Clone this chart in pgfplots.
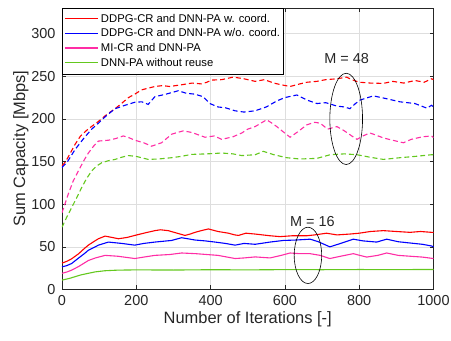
\documentclass[border=0pt]{standalone}
\usepackage{fontspec}
\setmainfont{Liberation Sans}
\usepackage{pgfplots}
\pgfplotsset{compat=1.18}
\definecolor{cred}{rgb}{1,0,0}
\definecolor{cblue}{rgb}{0,0,1}
\definecolor{cpink}{RGB}{255,45,165}
\definecolor{cgreen}{RGB}{100,200,30}
\definecolor{axgray}{rgb}{0.15,0.15,0.15}
\begin{document}
\begin{tikzpicture}
\path[use as bounding box] (-62bp,-51.5bp) rectangle (389bp,289.5bp);
\begin{axis}[
  at={(0,0)}, anchor=south west,
  scale only axis, width=371.5bp, height=281.5bp,
  xmin=0, xmax=1000, ymin=0, ymax=330,
  xtick={0,200,...,1000}, ytick={0,50,...,300},
  grid=major, major grid style={draw=black!13, line width=0.6pt},
  axis line style={draw=axgray, line width=0.6pt},
  tick style={draw=axgray, line width=0.6pt},
  tick align=inside, major tick length=4bp,
  /pgf/number format/assume math mode=true,
  /pgf/number format/1000 sep={},
  ticklabel style={font=\fontsize{14.5}{16}\selectfont, text=axgray},
  xticklabel style={yshift=-2bp},
  yticklabel style={xshift=-3bp},
  xlabel={Number of Iterations [-]},
  ylabel={Sum Capacity [Mbps]},
  label style={font=\fontsize{16.5}{18}\selectfont, text=axgray},
  xlabel style={yshift=1bp},
  ylabel style={yshift=-4bp},
  legend cell align=left,
  legend image code/.code={\draw[#1, line width=1.3bp, solid, line cap=butt] (0bp,0.5bp) -- (33bp,0.5bp);},
  legend style={at={(0,1)}, anchor=north west, fill=white,
    inner xsep=2bp, inner ysep=3.5bp,
    font=\fontsize{11.3}{13}\selectfont,
    nodes={inner sep=1.5bp, text height=9bp, text depth=2.7bp},
    /tikz/every odd column/.append style={column sep=1bp}},
  every axis plot/.append style={line width=1.1bp},
]
% ---- solid (M = 16) ----
\addplot[draw=cred] coordinates {(0,31)(13,33)(26,36)(45,42)(60,48)(71,52)(85,56)(98,59.5)(116,62.6)(135,61)(152,59.5)(175,61)(196,63.4)(220,66)(250,69)(265,70)(286,69)(310,66)(331,63.4)(345,65)(358,67)(375,69)(394,71)(420,68)(448,66)(465,64)(475,63.4)(495,66)(520,65)(540,64)(560,63)(587,62)(620,63)(659,63)(680,64)(712,66)(740,64)(775,65)(800,66)(830,68)(865,69)(900,68)(937,67)(965,68)(995,67)(1000,67)};
\addlegendentry{DDPG-CR and DNN-PA w. coord.}
\addplot[draw=cblue] coordinates {(0,26.5)(13,28)(26,30.5)(45,37)(60,42)(71,46)(85,49)(98,52)(125,55.6)(161,54)(196,52)(220,54)(250,55.6)(295,57.5)(322,60.7)(345,59)(358,58)(385,57)(412,55.6)(440,54)(466,52)(490,54)(520,53)(560,55.6)(596,57.5)(630,58)(668,59)(690,56)(721,50)(750,54)(784,59)(810,57)(847,55.6)(874,59)(905,56)(937,54.5)(970,53)(995,51)(1000,50)};
\addlegendentry{DDPG-CR and DNN-PA w/o. coord.}
\addplot[draw=cpink] coordinates {(0,19)(13,20.5)(26,22.7)(45,27)(71,34)(90,37)(116,40)(150,39)(196,36.3)(220,38)(250,40)(290,41)(322,42.8)(360,42)(390,41)(420,40)(466,36.3)(490,37)(520,38.2)(560,37)(590,40)(614,42.8)(640,42)(668,42)(695,40)(721,36.3)(750,39)(784,42)(820,38)(850,40)(874,42.8)(905,40)(937,39)(970,38)(1000,36.3)};
\addlegendentry{MI-CR and DNN-PA}
\addplot[draw=cgreen] coordinates {(0,11)(20,13)(35,15)(50,17)(71,19)(90,20.7)(116,22)(150,22.7)(200,23)(300,22.8)(400,23.2)(500,23)(600,23.3)(700,23.2)(800,23.4)(900,23.3)(1000,23.5)};
\addlegendentry{DNN-PA without reuse}
% ---- dashed (M = 48) ----
\addplot[draw=cred, dash pattern=on 5bp off 3bp, forget plot] coordinates {(0,145)(10,150)(20,158)(35,170)(50,180)(70,188)(98,197)(120,205)(143,212)(160,218)(179,225)(196,229)(214,234)(232,236)(250,238)(270,239)(290,238)(322,240)(350,242)(376,241)(390,243)(403,245.5)(430,246)(461,249)(490,247)(520,244)(545,246)(570,242)(590,240)(614,238)(640,241)(660,243)(686,244)(710,246)(740,247)(766,249)(780,246)(800,243)(830,242)(865,241.6)(890,244)(920,242)(950,245)(975,243)(995,247)(1000,246)};
\addplot[draw=cblue, dash pattern=on 5bp off 3bp, forget plot] coordinates {(0,143)(15,150)(35,164)(60,178)(80,188)(98,195)(120,204)(143,212)(170,216)(196,219.5)(215,220)(232,217)(250,226)(280,229)(313,233)(335,230)(358,229)(380,226)(398,218)(420,214)(440,213)(466,209.5)(490,208)(520,209.5)(550,214)(578,221)(600,225)(632,228)(660,222)(686,218)(710,219)(740,215)(760,214)(775,212)(790,218)(802,222)(838,227)(870,224)(910,220)(950,218)(982,212.6)(995,216)(1000,214)};
\addplot[draw=cpink, dash pattern=on 5bp off 3bp, forget plot] coordinates {(0,90)(17,112)(30,127)(44,139)(60,152)(71,160)(85,168)(98,174)(125,175)(145,177)(165,180)(180,178)(196,175)(220,172)(241,168)(268,172)(295,182)(310,184)(327,186)(350,184)(385,178.5)(410,180)(430,176)(460,179)(484,183.5)(500,188)(520,191)(551,199)(565,195)(578,191)(595,185)(614,178.5)(635,185)(659,193)(680,196)(695,195)(715,188)(740,191)(760,186)(780,180)(794,176)(810,180)(829,183.5)(845,181)(865,177.7)(890,175)(919,172)(940,176)(970,179)(995,180)(1000,178)};
\addplot[draw=cgreen, dash pattern=on 5bp off 3bp, forget plot] coordinates {(0,73)(13,85)(26,96)(40,108)(53,119.5)(66,130)(80,139)(94,145)(107,148.6)(125,151)(143,152.5)(160,155)(179,157)(200,156)(232,152.5)(260,153)(295,154.5)(320,156)(349,158.4)(390,159)(430,160)(460,159)(484,157)(520,158)(542,162)(570,158)(605,154.5)(640,153)(686,153.7)(722,158)(760,159)(794,158)(830,155)(865,152.5)(910,154.5)(950,156)(995,158)(1000,158)};
% ---- annotations ----
\draw[black, line width=0.6pt] (axis cs:765,200) ellipse [x radius=44, y radius=53.5];
\draw[black, line width=0.6pt] (axis cs:662,40) ellipse [x radius=37, y radius=33];
\node[font=\fontsize{14.5}{16}\selectfont, text=axgray] at (axis cs:766,271) {M = 48};
\node[font=\fontsize{14.5}{16}\selectfont, text=axgray] at (axis cs:674,80) {M = 16};
\end{axis}
\end{tikzpicture}
\end{document}
